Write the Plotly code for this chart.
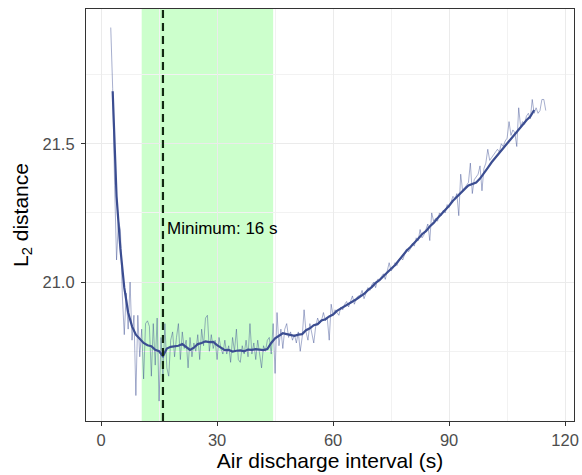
import numpy as np
import plotly.graph_objects as go

# Raw L2 distance sampled every 0.5 s from 2.5 s to 115 s
raw_x = np.arange(2.5, 115.01, 0.5)
raw_y = [
    21.92, 21.70, 21.35, 21.08, 21.22, 21.19, 20.95, 20.81, 20.96, 20.83,
    21.00, 20.79, 20.88, 20.59, 20.88, 20.73, 20.83, 20.65, 20.85, 20.86,
    20.84, 20.66, 20.85, 20.70, 20.87, 20.57, 20.80, 20.66, 20.85, 20.69,
    20.66, 20.79, 20.82, 20.73, 20.80, 20.85, 20.72, 20.82, 20.76, 20.79,
    20.69, 20.80, 20.73, 20.78, 20.75, 20.81, 20.72, 20.83, 20.77, 20.87,
    20.88, 20.75, 20.81, 20.76, 20.79, 20.72, 20.80, 20.76, 20.74, 20.79,
    20.74, 20.77, 20.71, 20.80, 20.75, 20.83, 20.72, 20.71, 20.77, 20.74,
    20.79, 20.73, 20.85, 20.74, 20.78, 20.72, 20.79, 20.74, 20.69, 20.77,
    20.75, 20.79, 20.80, 20.74, 20.85, 20.67, 20.89, 20.77, 20.83, 20.76,
    20.83, 20.85, 20.80, 20.82, 20.79, 20.81, 20.78, 20.82, 20.75, 20.80,
    20.90, 20.82, 20.79, 20.85, 20.82, 20.78, 20.84, 20.87, 20.85, 20.86,
    20.89, 20.86, 20.87, 20.79, 20.92, 20.88, 20.90, 20.89, 20.88, 20.91,
    20.90, 20.92, 20.93, 20.91, 20.93, 20.95, 20.92, 20.94, 20.95, 20.95,
    20.97, 20.94, 20.96, 20.98, 20.97, 20.99, 21.00, 20.98, 21.01, 21.01,
    21.02, 21.03, 21.01, 21.04, 21.07, 21.04, 21.05, 21.07, 21.06, 21.08,
    21.09, 21.08, 21.10, 21.12, 21.11, 21.12, 21.14, 21.13, 21.16, 21.15,
    21.19, 21.16, 21.17, 21.19, 21.21, 21.15, 21.25, 21.22, 21.23, 21.22,
    21.25, 21.24, 21.26, 21.25, 21.28, 21.27, 21.29, 21.31, 21.30, 21.32,
    21.24, 21.39, 21.33, 21.34, 21.35, 21.36, 21.43, 21.32, 21.37, 21.38,
    21.39, 21.42, 21.33, 21.41, 21.43, 21.48, 21.44, 21.45, 21.46, 21.47,
    21.48, 21.47, 21.50, 21.49, 21.51, 21.52, 21.58, 21.53, 21.55, 21.54,
    21.49, 21.63, 21.56, 21.58, 21.57, 21.60, 21.61, 21.59, 21.66, 21.61,
    21.63, 21.61, 21.62, 21.66, 21.66, 21.62,
]

# Smoothed curve, one value per second from 3 s to 112 s
smooth_x = list(range(3, 113))
smooth_y = [
    21.690, 21.310, 21.120, 20.980, 20.890, 20.840, 20.810, 20.795, 20.780, 20.772,
    20.768, 20.755, 20.750, 20.732, 20.760, 20.766, 20.768, 20.770, 20.776, 20.764,
    20.755, 20.763, 20.776, 20.780, 20.786, 20.783, 20.784, 20.772, 20.762, 20.754,
    20.755, 20.749, 20.752, 20.753, 20.750, 20.756, 20.755, 20.758, 20.756, 20.754,
    20.758, 20.780, 20.797, 20.806, 20.815, 20.812, 20.810, 20.806, 20.810, 20.812,
    20.826, 20.833, 20.844, 20.848, 20.861, 20.866, 20.876, 20.883, 20.896, 20.904,
    20.914, 20.921, 20.931, 20.938, 20.948, 20.957, 20.971, 20.982, 20.997, 21.007,
    21.021, 21.033, 21.048, 21.061, 21.079, 21.094, 21.113, 21.127, 21.144, 21.157,
    21.173, 21.184, 21.201, 21.214, 21.231, 21.245, 21.262, 21.276, 21.294, 21.309,
    21.324, 21.336, 21.349, 21.356, 21.360, 21.374, 21.392, 21.413, 21.433, 21.450,
    21.470, 21.486, 21.503, 21.520, 21.537, 21.555, 21.570, 21.585, 21.598, 21.622,
]

band = [10.5, 44.5]
minimum_x = 16
label_y = 21.195
label_text = "Minimum: 16 s"

x_ticks = [0, 30, 60, 90, 120]
y_ticks = [21.0, 21.5]
y_tick_text = ["21.0", "21.5"]

FONT = "Liberation Sans, Arial, sans-serif"

fig = go.Figure()

fig.add_trace(go.Scatter(
    x=raw_x, y=raw_y, mode="lines",
    line=dict(color="rgba(60,78,146,0.45)", width=1),
    hoverinfo="skip", showlegend=False,
))
fig.add_trace(go.Scatter(
    x=smooth_x, y=smooth_y, mode="lines",
    line=dict(color="#3B4D91", width=2.2),
    showlegend=False,
))

fig.add_shape(type="rect", xref="x", yref="paper",
              x0=band[0], x1=band[1], y0=0, y1=1,
              fillcolor="rgba(0,255,0,0.2)", line=dict(width=0), layer="below")
fig.add_shape(type="line", xref="x", yref="paper",
              x0=minimum_x, x1=minimum_x, y0=0, y1=1,
              line=dict(color="#112811", width=2.2, dash="8px,5px"))

fig.add_annotation(x=minimum_x, y=label_y, xref="x", yref="y",
                   text=label_text, showarrow=False, xanchor="left",
                   xshift=2, font=dict(family=FONT, size=17, color="black"))

axis_common = dict(
    automargin=False,
    showgrid=True, gridcolor="#EBEBEB", gridwidth=1.1,
    showline=True, linecolor="#333333", linewidth=1.1, mirror=True,
    ticks="outside", ticklen=4, tickcolor="#333333", tickwidth=1.1,
    tickfont=dict(family=FONT, size=16.5, color="#4D4D4D"),
    zeroline=False,
)

fig.update_xaxes(
    **axis_common,
    range=[-3.9, 122.3],
    tickvals=x_ticks,
    minor=dict(tickvals=[15, 45, 75, 105], showgrid=True,
               gridcolor="#F2F2F2", gridwidth=0.6, ticks=""),
    title=dict(text="Air discharge interval (s)",
               font=dict(family=FONT, size=21, color="black"), standoff=2),
)
fig.update_yaxes(
    **axis_common,
    ticklabelstandoff=3,
    range=[20.498, 21.987],
    tickvals=y_ticks, ticktext=y_tick_text,
    minor=dict(tickvals=[20.75, 21.25, 21.75], showgrid=True,
               gridcolor="#F2F2F2", gridwidth=0.6, ticks=""),
    title=dict(text="L<sub>2</sub> distance",
               font=dict(family=FONT, size=21, color="black"), standoff=8),
)

fig.update_layout(
    width=582, height=475,
    margin=dict(l=86, r=8, t=9, b=54),
    paper_bgcolor="white", plot_bgcolor="white",
    font=dict(family=FONT),
)

fig.write_html("out.html", config={"displayModeBar": False},
               post_script="document.body.style.margin='0';")
